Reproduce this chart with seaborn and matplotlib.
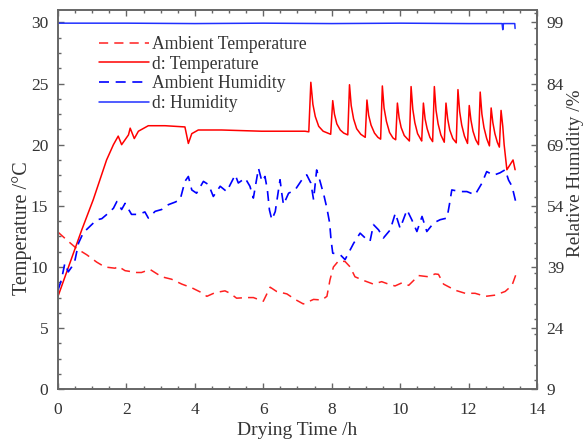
import numpy as np
import pandas as pd
import matplotlib
matplotlib.use("Agg")
import matplotlib.pyplot as plt
from matplotlib.ticker import MultipleLocator
import seaborn as sns

# ---------------- data ----------------
amb_temp_t = [0, 0.3, 0.55, 0.84, 1.13, 1.37, 1.67, 1.76, 1.96, 2.3, 2.44, 2.69, 3.03, 3.32, 3.62, 3.91,
              4.2, 4.35, 4.59, 4.88, 5.03, 5.22, 5.52, 5.71, 6.0, 6.2, 6.39, 6.69, 6.93, 7.17, 7.47, 7.71,
              7.86, 7.95, 8.05, 8.2, 8.39, 8.54, 8.68, 8.93, 9.22, 9.46, 9.66, 9.85, 10.05, 10.25, 10.54,
              10.83, 11.02, 11.12, 11.27, 11.61, 11.9, 12.19, 12.49, 12.78, 13.07, 13.27, 13.38]
amb_temp_v = [12.85, 12.1, 11.5, 11.0, 10.4, 10.0, 9.9, 10.05, 9.7, 9.55, 9.55, 9.8, 9.2, 9.0, 8.6, 8.3,
              7.9, 7.6, 7.9, 8.05, 7.85, 7.45, 7.5, 7.5, 7.2, 8.35, 8.0, 7.8, 7.35, 6.98, 7.35, 7.3,
              7.6, 8.95, 10.0, 10.5, 10.45, 10.0, 9.2, 8.9, 8.6, 8.8, 8.6, 8.45, 8.7, 8.5, 9.3,
              9.2, 9.43, 9.4, 8.6, 8.1, 7.85, 7.85, 7.6, 7.7, 8.0, 8.5, 9.35]

d_temp_t = [0, 0.69, 1.03, 1.42, 1.62, 1.76, 1.86, 2.06, 2.11, 2.23, 2.35, 2.64, 3.13, 3.71, 3.81, 3.91,
            4.1, 4.78, 5.95, 7.22, 7.33,
            7.39, 7.45, 7.52, 7.62, 7.75, 7.97,
            8.03, 8.08, 8.15, 8.25, 8.35, 8.47,
            8.52, 8.57, 8.64, 8.73, 8.85, 8.98,
            9.03, 9.08, 9.15, 9.25, 9.35, 9.43,
            9.48, 9.53, 9.6, 9.69, 9.79, 9.87,
            9.92, 9.97, 10.03, 10.12, 10.27,
            10.32, 10.37, 10.43, 10.51, 10.6, 10.63,
            10.68, 10.73, 10.79, 10.87, 10.95,
            11.0, 11.05, 11.11, 11.19, 11.29,
            11.34, 11.39, 11.45, 11.54, 11.64,
            11.69, 11.74, 11.8, 11.88, 11.97,
            12.02, 12.07, 12.13, 12.21, 12.29,
            12.34, 12.39, 12.45, 12.53, 12.61,
            12.66, 12.71, 12.77, 12.84, 12.9,
            12.95, 13.0, 13.04, 13.12, 13.3, 13.36]
d_temp_v = [7.6, 13.0, 15.5, 18.75, 20.0, 20.7, 20.0, 20.8, 21.35, 20.5, 21.1, 21.55, 21.55, 21.45, 20.1, 20.9,
            21.2, 21.2, 21.1, 21.1, 21.05,
            25.1, 23.3, 22.3, 21.5, 21.1, 20.85,
            23.6, 22.5, 21.7, 21.2, 20.95, 20.8,
            24.9, 23.2, 22.1, 21.3, 20.85, 20.6,
            23.65, 22.4, 21.6, 20.95, 20.6, 20.45,
            24.8, 23.0, 21.9, 21.0, 20.55, 20.4,
            23.4, 22.2, 21.4, 20.75, 20.3,
            24.75, 22.9, 21.8, 20.9, 20.45, 20.3,
            23.4, 22.1, 21.3, 20.6, 20.25,
            24.75, 22.8, 21.7, 20.8, 20.2,
            23.4, 22.1, 21.2, 20.5, 20.15,
            24.5, 22.7, 21.6, 20.7, 20.1,
            23.2, 22.0, 21.1, 20.4, 20.0,
            24.3, 22.5, 21.4, 20.5, 19.9,
            23.0, 21.8, 20.9, 20.2, 19.8,
            22.8, 21.5, 20.0, 17.95, 18.75, 17.95]

amb_hum_t = [0, 0.1, 0.2, 0.3, 0.4, 0.5, 0.6, 0.74, 0.98, 1.13, 1.28, 1.47, 1.62, 1.72, 1.86, 1.96,
             2.15, 2.35, 2.54, 2.64, 2.84, 3.03, 3.23, 3.42,
             3.57, 3.71, 3.81, 3.91, 4.05, 4.25, 4.40, 4.54, 4.74, 4.93, 5.18, 5.27, 5.47, 5.61, 5.71,
             5.86, 5.96, 6.05, 6.12, 6.18, 6.25, 6.35, 6.49, 6.54, 6.59, 6.74, 6.93, 7.13, 7.27, 7.39,
             7.47, 7.56, 7.66, 7.78, 7.86, 7.94, 7.98, 8.03, 8.25, 8.39, 8.49, 8.64, 8.83, 8.98, 9.12,
             9.22, 9.37, 9.51, 9.71, 9.86, 10.0, 10.2, 10.34, 10.49, 10.64, 10.78, 10.98, 11.17, 11.37,
             11.44, 11.51, 11.76, 11.95,
             12.19, 12.39, 12.53, 12.73, 12.92, 13.07, 13.17, 13.27, 13.39]
amb_hum_v = [33.3, 35.85, 39.9, 37.8, 39.0, 40.8, 44.85, 47.4, 49.35, 50.55, 50.85, 52.2, 53.4, 55.05, 53.1, 54.6,
             51.9, 51.9, 52.5, 51.0, 52.65, 53.1, 54.3, 54.9,
             55.5, 60.0, 61.2, 57.9, 57.1, 60.0, 59.2, 56.3, 58.8, 57.5, 61.6, 59.6, 60.8, 58.8, 55.9,
             63.2, 60.0, 61.2, 57.9, 53.0, 50.6, 52.6, 60.4, 57.1, 54.3, 57.1, 57.9, 60.4, 61.6, 59.6,
             55.5, 62.8, 60.0, 56.3, 53.4, 49.8, 45.7, 42.4, 42.0, 40.8, 42.4, 44.8, 47.3, 46.1, 45.3,
             49.4, 48.1, 46.1, 48.1, 52.2, 48.5, 53.0, 50.6, 47.7, 51.4, 47.7, 49.8, 50.6, 51.0,
             54.3, 57.9, 57.5, 57.5,
             56.7, 59.55, 62.4, 61.5, 62.1, 62.85, 60.3, 58.8, 54.6]

d_hum_t = [0, 2.0, 4.0, 6.0, 8.0, 10.0, 12.0, 12.98, 13.0, 13.02, 13.35, 13.36]
d_hum_v = [98.8, 98.8, 98.7, 98.8, 98.7, 98.8, 98.7, 98.7, 97.2, 98.7, 98.7, 97.5]

xticks = [0, 2, 4, 6, 8, 10, 12, 14]
yticks_left = [0, 5, 10, 15, 20, 25, 30]
yticks_right = [9, 24, 39, 54, 69, 84, 99]

# ---------------- style ----------------
sns.set_style("ticks")
plt.rcParams['font.family'] = ['Liberation Serif', 'DejaVu Serif']
plt.rcParams['mathtext.fontset'] = 'stix'
plt.rcParams['xtick.direction'] = 'in'
plt.rcParams['ytick.direction'] = 'in'

spine_c = '#666666'
text_c = '#333333'

fig = plt.figure(figsize=(5.87, 4.40), dpi=100)
ax = fig.add_axes([0.0988, 0.1152, 0.9148 - 0.0988, 0.977 - 0.1152])
ax2 = ax.twinx()

df_at = pd.DataFrame({'t': amb_temp_t, 'v': amb_temp_v})
df_dt = pd.DataFrame({'t': d_temp_t, 'v': d_temp_v})
df_ah = pd.DataFrame({'t': amb_hum_t, 'v': amb_hum_v})
df_dh = pd.DataFrame({'t': d_hum_t, 'v': d_hum_v})

sns.lineplot(data=df_at, x='t', y='v', ax=ax, color='#ff2020', lw=1.1, sort=False, estimator=None,
             linestyle=(0, (6, 4)), label='Ambient Temperature', legend=False)
sns.lineplot(data=df_dt, x='t', y='v', ax=ax, color='#ff0000', lw=1.1, sort=False, estimator=None,
             label='d: Temperature', legend=False)
sns.lineplot(data=df_ah, x='t', y='v', ax=ax2, color='#0000ff', lw=1.2, sort=False, estimator=None,
             linestyle=(0, (6, 4)), label='Ambient Humidity', legend=False)
sns.lineplot(data=df_dh, x='t', y='v', ax=ax2, color='#2030ff', lw=1.1, sort=False, estimator=None,
             label='d: Humidity', legend=False)

ax.set_xlim(0, 14)
ax.set_ylim(0, 31)
ax2.set_ylim(9, 102)
ax.set_xticks(xticks)
ax.set_yticks(yticks_left)
ax2.set_yticks(yticks_right)
ax.xaxis.set_minor_locator(MultipleLocator(0.5))
ax.yaxis.set_minor_locator(MultipleLocator(1.25))
ax2.yaxis.set_minor_locator(MultipleLocator(3.75))

ax.tick_params(axis='x', which='both', top=True, bottom=True, colors=spine_c, labelcolor=text_c,
               labelsize=12.5, pad=9)
ax.tick_params(axis='x', which='major', length=4, width=1)
ax.tick_params(axis='x', which='minor', length=2, width=1)
ax.tick_params(axis='y', which='both', left=True, right=False, colors=spine_c, labelcolor=text_c,
               labelsize=12.5, pad=7)
ax.tick_params(axis='y', which='major', length=4, width=1)
ax.tick_params(axis='y', which='minor', length=2, width=1)
ax2.tick_params(axis='y', which='both', colors=spine_c, labelcolor=text_c, labelsize=12.5, pad=7)
ax2.tick_params(axis='y', which='major', length=4, width=1)
ax2.tick_params(axis='y', which='minor', length=2, width=1)

for a in (ax, ax2):
    for s in a.spines.values():
        s.set_color(spine_c)
        s.set_linewidth(1.2)
        s.set_visible(True)

ax.set_xlabel('Drying Time /h', fontsize=14, color=text_c, labelpad=3)
ax.set_ylabel('Temperature /°C', fontsize=14.5, color=text_c)
ax.yaxis.set_label_coords(-0.076, 0.425)
ax.yaxis.label.set_verticalalignment('center')
ax2.set_ylabel('Relative Humidity /%', fontsize=13.8, color=text_c)
ax2.yaxis.set_label_coords(1.08, 0.57)
ax2.yaxis.label.set_verticalalignment('center')

handles = ax.get_lines() + ax2.get_lines()
labels = ['Ambient Temperature', 'd: Temperature', 'Ambient Humidity', 'd: Humidity']
leg = ax.legend(handles, labels, loc='upper left', bbox_to_anchor=(0.085, 0.932), frameon=False,
                fontsize=12.7, handlelength=2.85, handletextpad=0.15, labelspacing=0.15, borderaxespad=0,
                borderpad=0)
for txt in leg.get_texts():
    txt.set_color(text_c)

fig.savefig('out.png', dpi=100)
